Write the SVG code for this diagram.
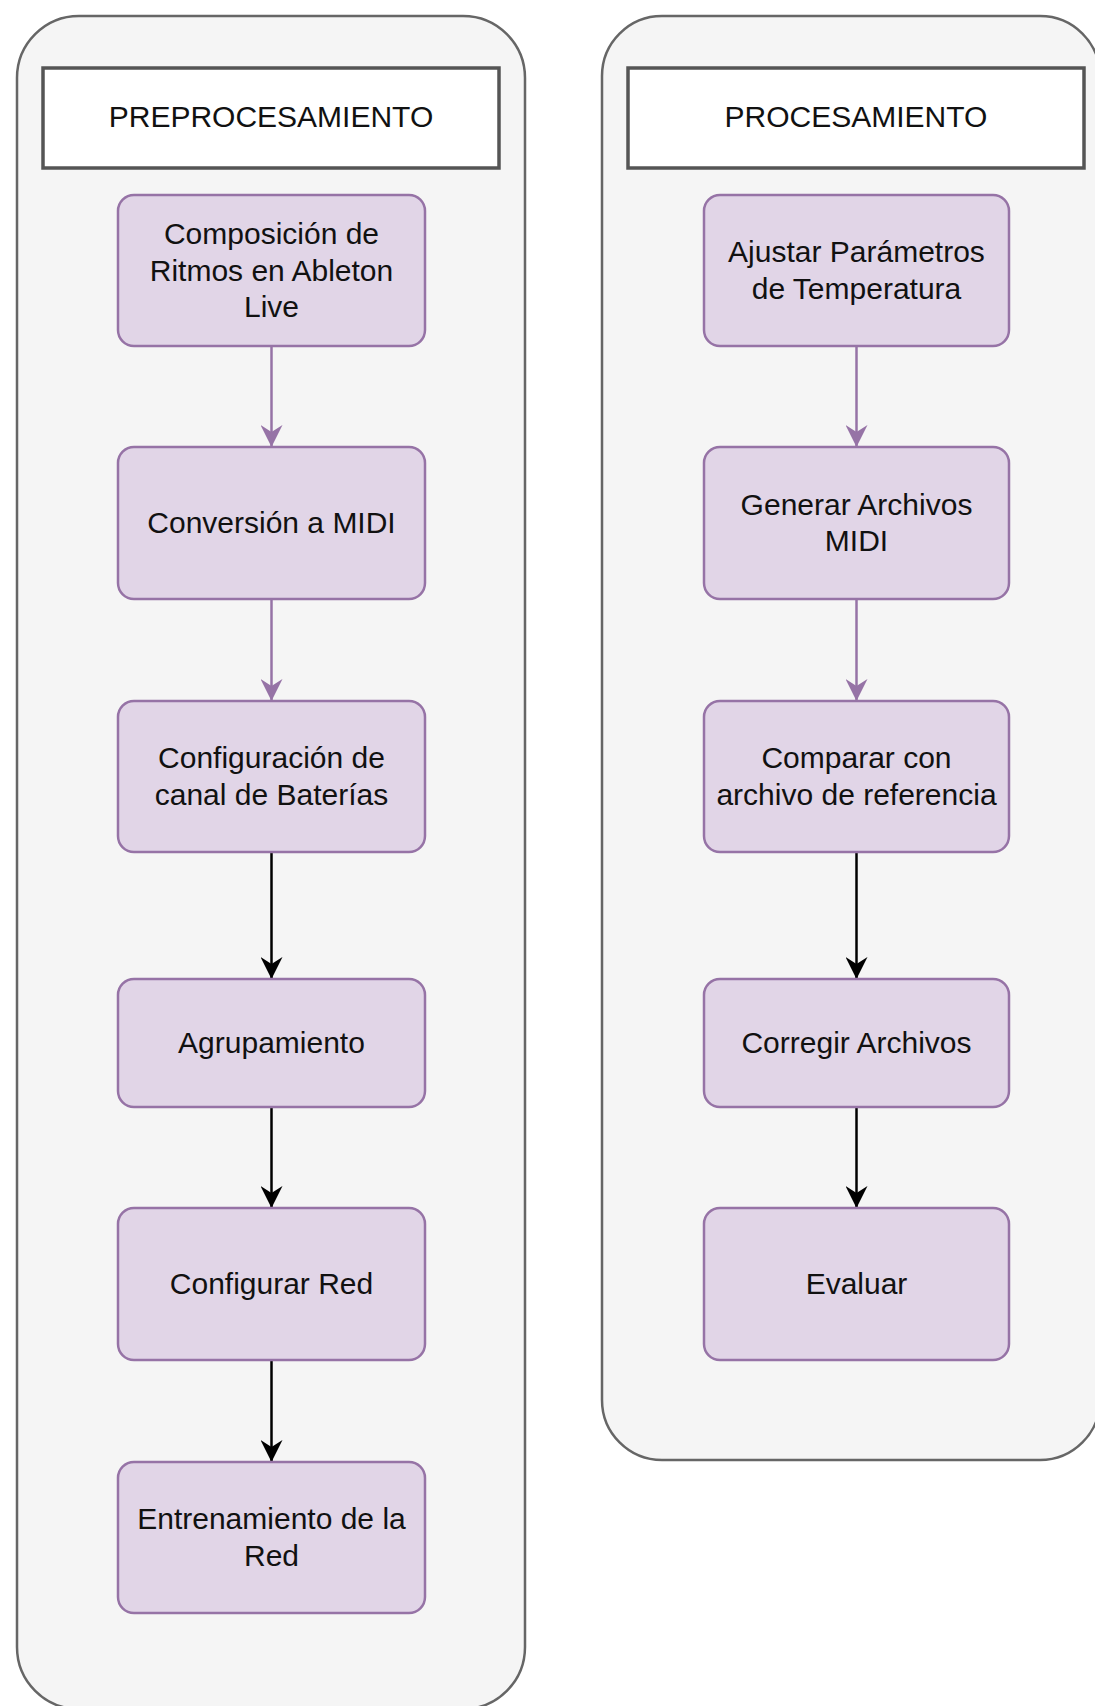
<svg xmlns="http://www.w3.org/2000/svg" width="1095" height="1706" viewBox="0 0 1095 1706">
<style>
.bg{fill:#ffffff}
.container{fill:#f5f5f5;stroke:#666666;stroke-width:2.5}
.header{fill:#ffffff;stroke:#555555;stroke-width:3.5}
.node{fill:#e1d5e7;stroke:#9673a6;stroke-width:2.5}
.t{font-family:"Liberation Sans",Arial,Helvetica,sans-serif;font-size:30px;fill:#111111;text-anchor:middle}
.cp{stroke:#9673a6;stroke-width:2.5;fill:none}
.ck{stroke:#000000;stroke-width:2.5;fill:none}
</style>
<defs>
<marker id="arrP" markerUnits="userSpaceOnUse" viewBox="0 0 22 22" markerWidth="22" markerHeight="22" refX="22" refY="11" orient="auto">
<path d="M0,0 L22,11 L0,22 L7,11 Z" fill="#9673a6"/>
</marker>
<marker id="arrK" markerUnits="userSpaceOnUse" viewBox="0 0 22 22" markerWidth="22" markerHeight="22" refX="22" refY="11" orient="auto">
<path d="M0,0 L22,11 L0,22 L7,11 Z" fill="#000000"/>
</marker>
</defs>
<rect class="bg" x="0" y="0" width="1095" height="1706"/>

<g id="container-preprocesamiento">
<rect class="container" x="17" y="16" width="508" height="1693" rx="62" ry="62"/>
</g>
<g id="container-procesamiento">
<rect class="container" x="602" y="16" width="498" height="1444" rx="60" ry="60"/>
</g>

<g id="header-preprocesamiento">
<rect class="header" x="43" y="68" width="456" height="100"/>
<text class="t" x="271" y="127">PREPROCESAMIENTO</text>
</g>
<g id="header-procesamiento">
<rect class="header" x="628" y="68" width="456" height="100"/>
<text class="t" x="856" y="127">PROCESAMIENTO</text>
</g>

<g id="connectors">
<line class="cp" x1="271.5" y1="346" x2="271.5" y2="447" marker-end="url(#arrP)"/>
<line class="cp" x1="271.5" y1="599" x2="271.5" y2="701" marker-end="url(#arrP)"/>
<line class="ck" x1="271.5" y1="852" x2="271.5" y2="979" marker-end="url(#arrK)"/>
<line class="ck" x1="271.5" y1="1107" x2="271.5" y2="1208" marker-end="url(#arrK)"/>
<line class="ck" x1="271.5" y1="1360" x2="271.5" y2="1462" marker-end="url(#arrK)"/>
<line class="cp" x1="856.5" y1="346" x2="856.5" y2="447" marker-end="url(#arrP)"/>
<line class="cp" x1="856.5" y1="599" x2="856.5" y2="701" marker-end="url(#arrP)"/>
<line class="ck" x1="856.5" y1="852" x2="856.5" y2="979" marker-end="url(#arrK)"/>
<line class="ck" x1="856.5" y1="1107" x2="856.5" y2="1208" marker-end="url(#arrK)"/>
</g>

<g id="node-composicion">
<rect class="node" x="118" y="195" width="307" height="151" rx="16" ry="16"/>
<text class="t" x="271.5" y="244">Composición de</text>
<text class="t" x="271.5" y="280.5">Ritmos en Ableton</text>
<text class="t" x="271.5" y="317">Live</text>
</g>
<g id="node-conversion">
<rect class="node" x="118" y="447" width="307" height="152" rx="16" ry="16"/>
<text class="t" x="271.5" y="533">Conversión a MIDI</text>
</g>
<g id="node-configuracion">
<rect class="node" x="118" y="701" width="307" height="151" rx="16" ry="16"/>
<text class="t" x="271.5" y="768">Configuración de</text>
<text class="t" x="271.5" y="805">canal de Baterías</text>
</g>
<g id="node-agrupamiento">
<rect class="node" x="118" y="979" width="307" height="128" rx="16" ry="16"/>
<text class="t" x="271.5" y="1053">Agrupamiento</text>
</g>
<g id="node-configurar-red">
<rect class="node" x="118" y="1208" width="307" height="152" rx="16" ry="16"/>
<text class="t" x="271.5" y="1294">Configurar Red</text>
</g>
<g id="node-entrenamiento">
<rect class="node" x="118" y="1462" width="307" height="151" rx="16" ry="16"/>
<text class="t" x="271.5" y="1529">Entrenamiento de la</text>
<text class="t" x="271.5" y="1566">Red</text>
</g>

<g id="node-ajustar">
<rect class="node" x="704" y="195" width="305" height="151" rx="16" ry="16"/>
<text class="t" x="856.5" y="262">Ajustar Parámetros</text>
<text class="t" x="856.5" y="299">de Temperatura</text>
</g>
<g id="node-generar">
<rect class="node" x="704" y="447" width="305" height="152" rx="16" ry="16"/>
<text class="t" x="856.5" y="515">Generar Archivos</text>
<text class="t" x="856.5" y="551">MIDI</text>
</g>
<g id="node-comparar">
<rect class="node" x="704" y="701" width="305" height="151" rx="16" ry="16"/>
<text class="t" x="856.5" y="768">Comparar con</text>
<text class="t" x="856.5" y="805">archivo de referencia</text>
</g>
<g id="node-corregir">
<rect class="node" x="704" y="979" width="305" height="128" rx="16" ry="16"/>
<text class="t" x="856.5" y="1053">Corregir Archivos</text>
</g>
<g id="node-evaluar">
<rect class="node" x="704" y="1208" width="305" height="152" rx="16" ry="16"/>
<text class="t" x="856.5" y="1294">Evaluar</text>
</g>
</svg>
